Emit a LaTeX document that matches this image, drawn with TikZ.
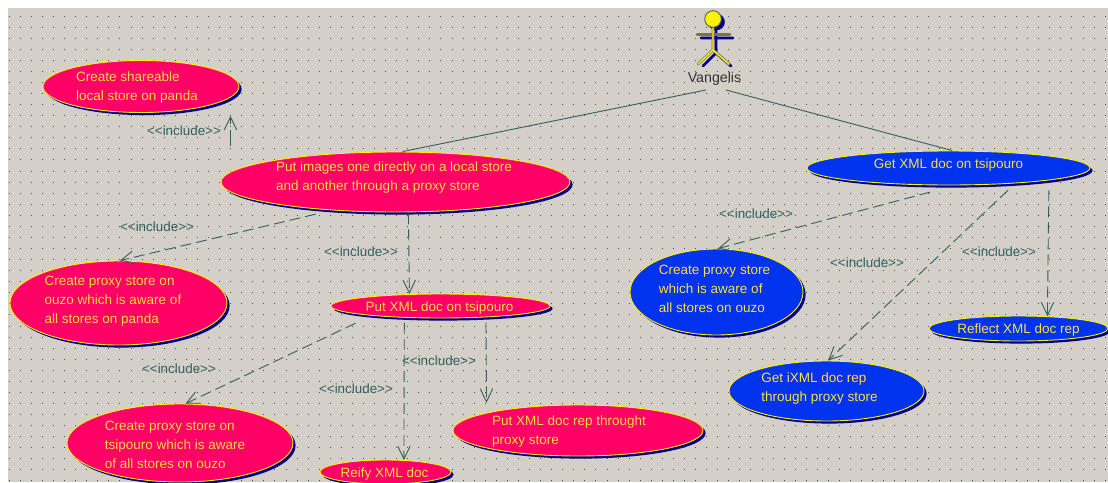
\documentclass[tikz,border=0pt]{standalone}
\usepackage{fontspec}
\setmainfont{Liberation Sans}
\usetikzlibrary{arrows.meta,shapes.geometric,shadows}
\definecolor{canvasbg}{HTML}{D4D0C8}
\definecolor{ucred}{HTML}{FF0066}
\definecolor{ucblue}{HTML}{0033EE}
\definecolor{ucshadow}{HTML}{000088}
\definecolor{uctext}{HTML}{FFE040}
\definecolor{linkcol}{HTML}{2F5F5F}
\newcommand\uct[3]{\smash{\makebox[0pt][c]{\hspace{#1pt}\hspace{#1pt}\raisebox{\dimexpr #2pt-4.7pt\relax}{\begin{tabular}{@{}l@{}}#3\end{tabular}}}}}
\newcommand\incltext{<{}<include>{}>}
\tikzset{
  x=1pt,y=-1pt,
  usecase/.style={ellipse,inner sep=0pt,draw=yellow,line width=0.9pt,text=uctext,
    font=\fontsize{13.5}{19}\selectfont,
    general shadow={fill=ucshadow,draw=none,shadow xshift=2.6pt,shadow yshift=-2.6pt}},
  redcase/.style={usecase,fill=ucred},
  bluecase/.style={usecase,fill=ucblue},
  assoc/.style={draw=linkcol,line width=0.9pt},
  incl/.style={draw=linkcol,line width=0.9pt,dash pattern=on 11pt off 5pt,
    -{Straight Barb[length=13pt,width=12.5pt,line width=0.9pt]}},
  incllabel/.style={text=linkcol,font=\fontsize{13.4}{15}\selectfont,inner sep=0pt},
}
\begin{document}
\begin{tikzpicture}
\useasboundingbox (0,0) rectangle (1108,482);
\fill[canvasbg] (8,8) rectangle (1108,482);
% grid dots
\foreach \i in {0,...,99}{\foreach \j in {0,...,42}{
  \fill[black!70] ({9.2+11.07*\i-0.45},{16+11.07*\j-0.45}) rectangle ++(0.9,0.9);
}}
% use cases
\node[redcase,minimum width=196pt,minimum height=52pt] (share) at (141,86.5) {\uct{-4}{0}{Create shareable\\local store on panda}};
\node[redcase,minimum width=349pt,minimum height=60pt] (putimg) at (395.5,182) {\uct{-1.5}{5.5}{Put images one directly on a local store\\and another through a proxy store}};
\node[redcase,minimum width=217pt,minimum height=84pt] (proxypanda) at (118.5,303) {\uct{-5.5}{3}{Create proxy store on\\ouzo which is aware of\\all stores on panda}};
\node[redcase,minimum width=219pt,minimum height=24pt] (putxml) at (440.5,306) {\uct{-1}{-1}{Put XML doc on tsipouro}};
\node[redcase,minimum width=226pt,minimum height=78pt] (proxytsi) at (180,443) {\uct{-5}{-2}{Create proxy store on\\tsipouro which is aware\\of all stores on ouzo}};
\node[redcase,minimum width=131pt,minimum height=24pt] (reify) at (385.5,472) {\uct{-1}{-1}{Reify XML doc}};
\node[redcase,minimum width=250pt,minimum height=51pt] (putrep) at (578,430.5) {\uct{-9}{0}{Put XML doc rep throught\\proxy store}};
\node[bluecase,minimum width=283pt,minimum height=34pt] (getxml) at (948.5,168) {\uct{0}{4}{Get XML doc on tsipouro}};
\node[bluecase,minimum width=173pt,minimum height=86pt] (proxyblue) at (716.5,292) {\uct{-2}{3}{Create proxy store\\which is aware of\\all stores on ouzo}};
\node[bluecase,minimum width=179pt,minimum height=25pt] (reflect) at (1018.5,328.5) {\uct{0}{-0.5}{Reflect XML doc rep}};
\node[bluecase,minimum width=195pt,minimum height=60pt] (getixml) at (826.5,391) {\uct{-7}{3.5}{Get iXML doc rep\\through proxy store}};
% actor
\begin{scope}[line cap=round]
  \fill[ucshadow] (716.5,22) circle (8.3);
  \draw[ucshadow,line width=2.8pt] (701,38) -- (733,38) (716,30) -- (716,53) -- (703,66) (716,53) -- (731,66);
  \draw[black!60!yellow,line width=2.8pt] (697,34.5) -- (730,34.5);
  \draw[black!55,line width=2.8pt] (713,27) -- (713,50) -- (698,64) (713,50) -- (729,64);
  \draw[yellow,line width=1.4pt] (713,27) -- (713,50) -- (698,64) (713,50) -- (729,64);
  \filldraw[fill=yellow,draw=black!65,line width=0.9pt] (713,19) circle (8.3);
\end{scope}
\node[font=\fontsize{14.2}{16}\selectfont,text=black!80,inner sep=0pt] (vangelis) at (714.5,78.5) {Vangelis};
\coordinate (actorL) at (706,90);
\coordinate (actorR) at (726,90);
\draw[assoc] (actorL) -- (putimg.77);
\draw[assoc] (actorR) -- (getxml.78);
% includes
\coordinate (inc1s) at (230.5,146);
\coordinate (inc1t) at (230.5,116);
\draw[incl,dash pattern=on 16pt off 6pt] (inc1s) -- (inc1t);
\draw[incl,shorten <=16.5pt] (putimg.-156.1) -- (proxypanda.88);
\draw[incl,shorten <=1pt] (putimg.-67.6) -- (putxml.159.8);
\draw[incl,shorten <=17.7pt] (putxml.-172.8) -- (proxytsi.82.7);
\draw[incl,shorten <=5pt] (putxml.-162.1) -- (reify.33);
\draw[incl,shorten <=5pt,shorten >=10pt] (putxml.-14.4) -- (putrep.169.6);
\draw[incl,shorten <=26pt] (getxml.-69.1) -- (proxyblue.88);
\draw[incl,shorten <=9.8pt] (getxml.-13.9) -- (getixml.87);
\draw[incl,shorten <=10pt] (getxml.-7.3) -- (reflect.23.4);
% labels
\node[incllabel] (l1) at (184,131) {\incltext};
\node[incllabel] (l2) at (157,227) {\incltext};
\node[incllabel] (l3) at (361,252) {\incltext};
\node[incllabel] (l4) at (756,214) {\incltext};
\node[incllabel] (l5) at (867,263) {\incltext};
\node[incllabel] (l6) at (999,252) {\incltext};
\node[incllabel] (l7) at (179,369) {\incltext};
\node[incllabel] (l8) at (356,389) {\incltext};
\node[incllabel] (l9) at (439,361) {\incltext};
\end{tikzpicture}
\end{document}
